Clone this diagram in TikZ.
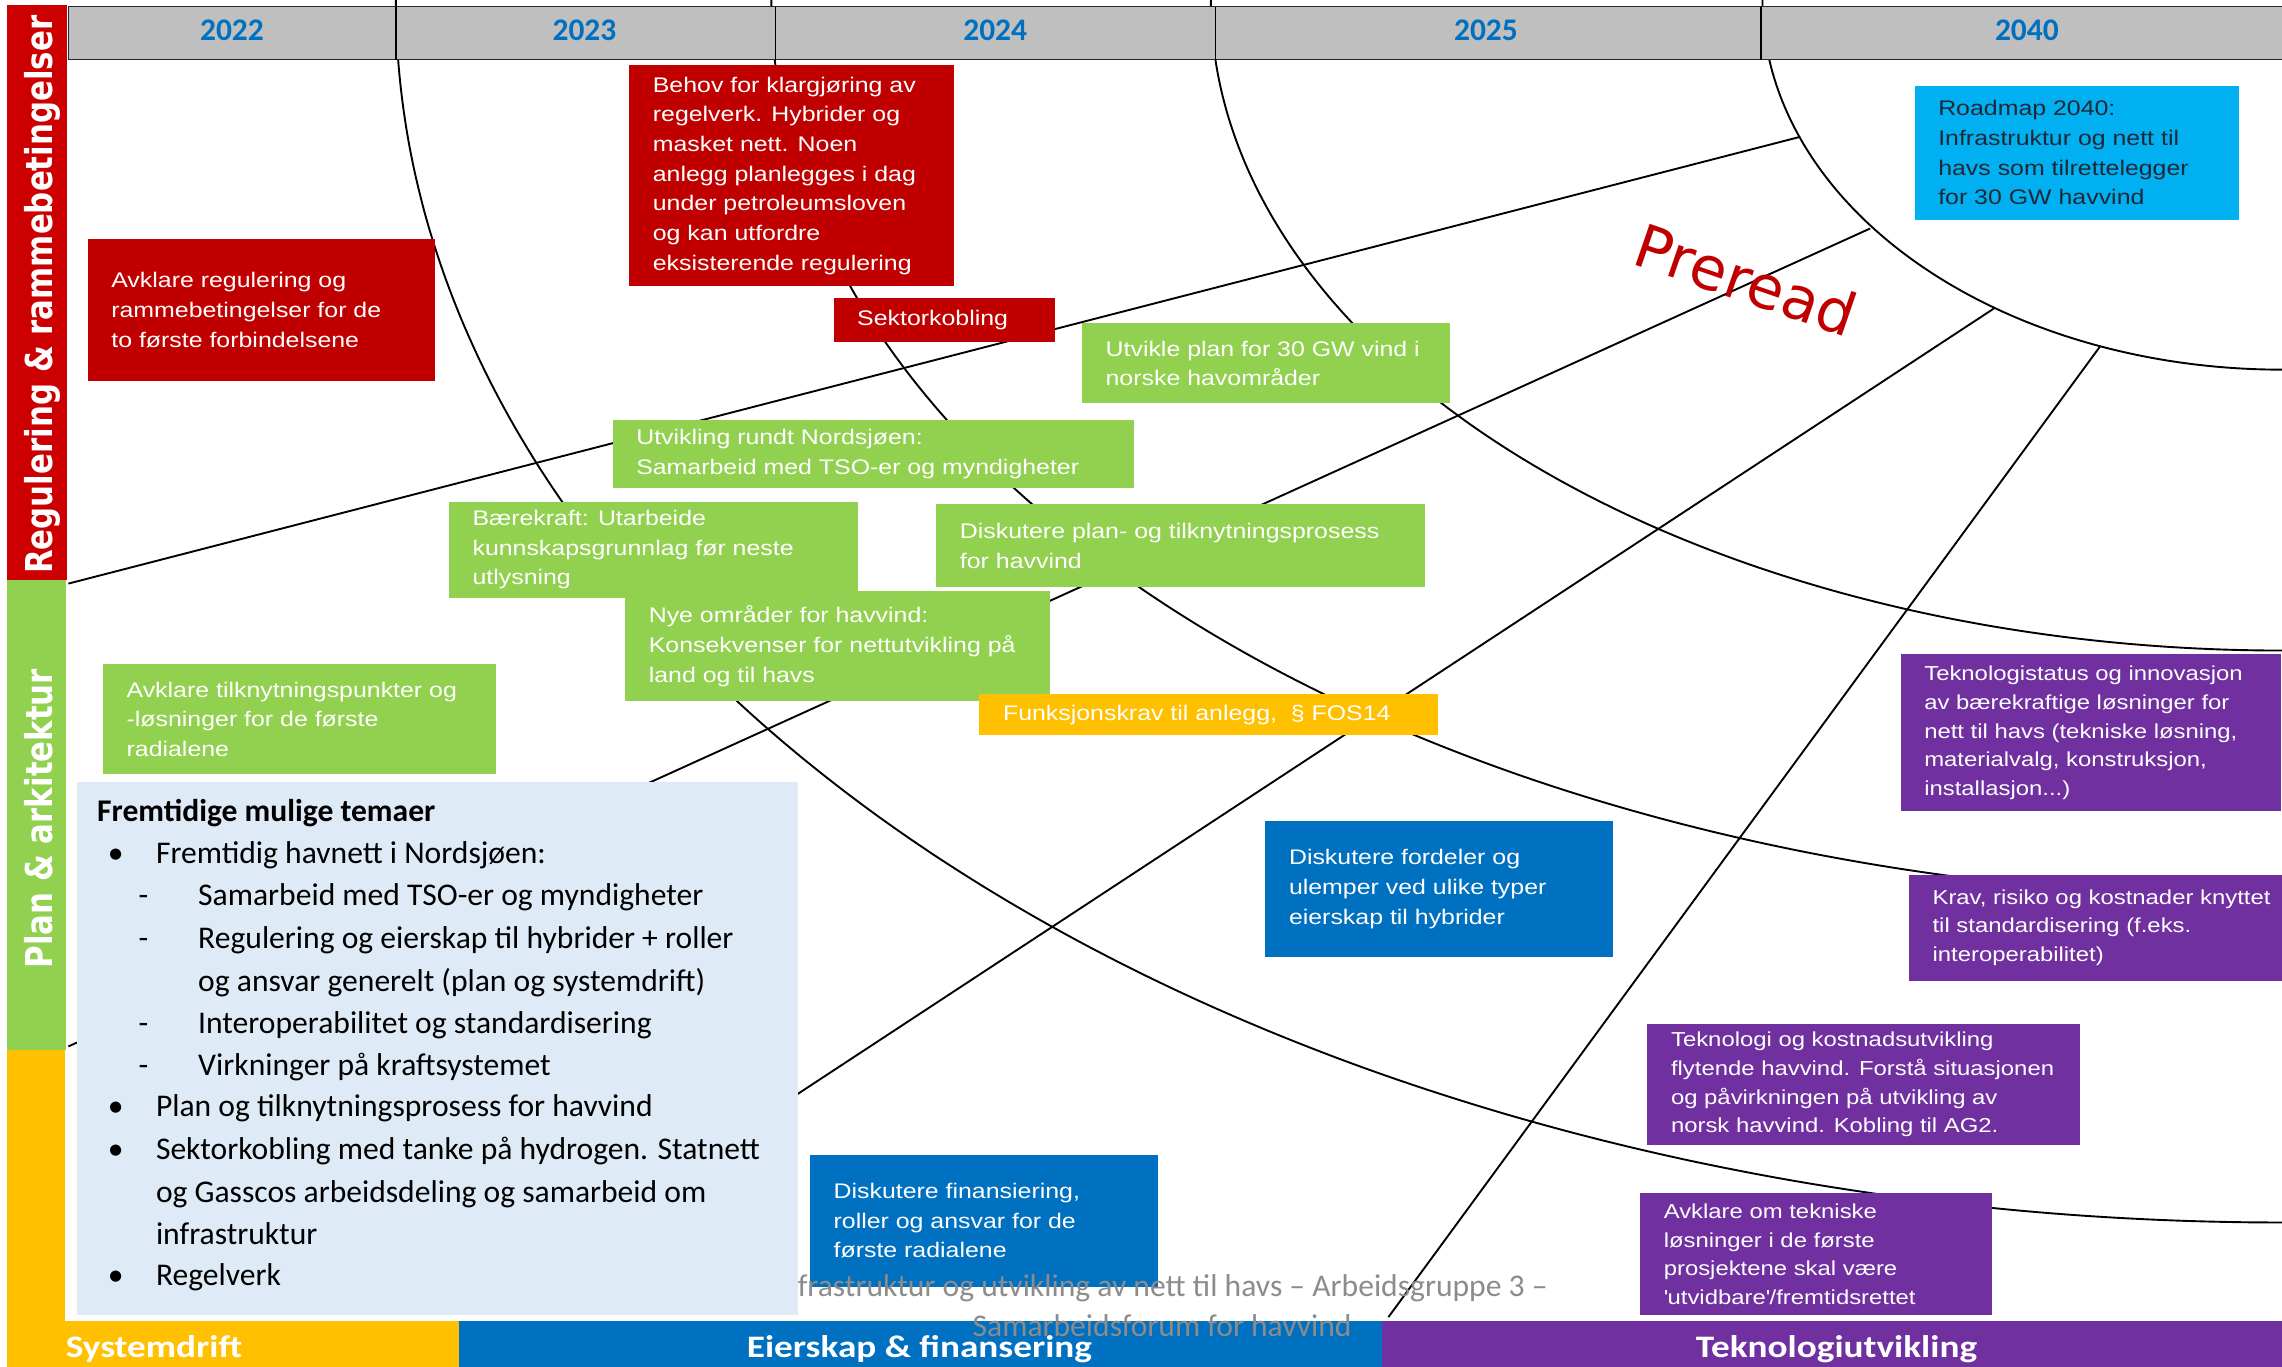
\documentclass[tikz,border=0pt]{standalone}
\usepackage{fontspec}
\usepackage{tikz}
\newfontfamily\cardfont{Liberation Sans}[FakeStretch=1.18]
\newfontfamily\calfont{Carlito}
\newfontfamily\barfont{Carlito}[FakeStretch=1.19]
\newfontfamily\sidefont{DejaVu Sans}
\definecolor{BoxRed}{RGB}{192,0,0}
\definecolor{BarRed}{RGB}{204,0,0}
\definecolor{LeafGreen}{RGB}{146,208,80}
\definecolor{Amber}{RGB}{255,192,0}
\definecolor{SkyCyan}{RGB}{0,176,240}
\definecolor{OceanBlue}{RGB}{0,112,192}
\definecolor{Violet}{RGB}{112,48,160}
\definecolor{PaleBlue}{RGB}{222,235,247}
\definecolor{HeadGray}{RGB}{191,191,191}
\definecolor{FootGray}{RGB}{140,140,140}
\definecolor{NavyInk}{RGB}{32,40,56}

\begin{document}
\begin{tikzpicture}[x=1pt,y=-1pt,
  arcline/.style={black, line width=1.3pt},
  cardtext/.style={anchor=west, inner sep=0pt, align=left, text=white,
    font={\cardfont\fontsize{14.5}{20.4}\selectfont}},
  cardsmall/.style={cardtext, font={\cardfont\fontsize{13.9}{19.7}\selectfont}},
  yearlabel/.style={anchor=base, inner sep=0pt, text=OceanBlue,
    font={\calfont\bfseries\fontsize{21.6}{24}\selectfont}},
  sidelabel/.style={rotate=90, anchor=base, inner sep=0pt, text=white,
    font={\sidefont\bfseries\fontsize{21.2}{24}\selectfont}},
  barlabel/.style={anchor=base west, inner sep=0pt, text=white,
    font={\barfont\bfseries\fontsize{21.5}{24}\selectfont}},
  tema/.style={anchor=base west, inner sep=0pt, text=black,
    font={\calfont\fontsize{21.7}{26}\selectfont}},
  foot/.style={inner sep=0pt, text=FootGray,
    font={\calfont\fontsize{21.7}{26}\selectfont}}]
  \useasboundingbox (0,0) rectangle (1568,939);

  % ---------- 弧线与射线（先画）----------
  \foreach \rx/\ry in {357/254,736/447,1038/617,1296/840}
    \draw[arcline, domain=90:180, samples=90, smooth, variable=\t]
      plot ({1568+\rx*cos(\t)},{\ry*sin(\t)});
  \draw[arcline] (47,401) -- (1237,94);
  \draw[arcline] (47,719) -- (1285,157);
  \draw[arcline] (540,757) -- (1370,212);
  \draw[arcline] (954,905) -- (1443,238);

  % ---------- 年份表头 ----------
  \fill[HeadGray] (47,4.6) rectangle (1575,41);
  \draw[line width=0.8pt, black!85] (47,4.6) rectangle (1575,41);
  \foreach \x in {272,533,835,1210}
    \draw[line width=0.9pt] (\x,4.6) -- (\x,41);
  \foreach \yr/\xc in {2022/159.4,2023/401.6,2024/683.8,2025/1021,2040/1392.7}
    \node[yearlabel] (y\yr) at (\xc,27.9) {\yr};

  % 左侧色条
  \fill[BarRed] (5,3.4) rectangle (46,398.5);
  \fill[LeafGreen] (5,398.5) rectangle (45.5,721.5);
  \fill[Amber] (5,721.5) rectangle (45,939);
  \node[sidelabel] (sideReg) at (36,202.5)
    {\scalebox{1}[1.2]{Regulering \& rammebetingelser}};
  \node[sidelabel] (sidePlan) at (36,562.5)
    {\scalebox{1}[1.2]{Plan \& arkitektur}};

  % ---------- 任务框 ----------
  \foreach \nm/\col/\xa/\ya/\xb/\yb/\txt in {
      avklReg/BoxRed/60.3/164.4/298.7/261.6/{Avklare regulering og\\rammebetingelser for de\\to første forbindelsene},
      behov/BoxRed/432.4/44.9/655.6/196.5/{Behov for klargjøring av\\regelverk. Hybrider og\\masket nett. Noen\\anlegg planlegges i dag\\under petroleumsloven\\og kan utfordre\\eksisterende regulering},
      sektor/BoxRed/572.8/205/724.6/235.2/{Sektorkobling},
      utvPlan/LeafGreen/743.5/222.2/996/277.1/{Utvikle plan for 30 GW vind i\\norske havområder},
      utvNord/LeafGreen/421/288.6/779/335.5/{Utvikling rundt Nordsjøen:\\Samarbeid med TSO-er og myndigheter},
      baere/LeafGreen/308.5/344.7/589.7/410.7/{Bærekraft: Utarbeide\\kunnskapsgrunnlag før neste\\utlysning},
      diskPlan/LeafGreen/643.4/346.5/979/403.6/{Diskutere plan- og tilknytningsprosess\\for havvind},
      nyeOmr/LeafGreen/429.6/406/721.5/482/{Nye områder for havvind:\\Konsekvenser for nettutvikling på\\land og til havs},
      funksj/Amber/673/477/988/505/{Funksjonskrav til anlegg,\ \ § FOS14},
      avklTilk/LeafGreen/70.8/456.5/341/532/{Avklare tilknytningspunkter og\\-løsninger for de første\\radialene},
      diskFord/OceanBlue/869.5/564.2/1108/657.3/{Diskutere fordeler og\\ulemper ved ulike typer\\eierskap til hybrider},
      diskFin/OceanBlue/556.6/793.6/795.7/884/{Diskutere finansiering,\\roller og ansvar for de\\første radialene}} {
    \fill[fill=\col] (\xa,\ya) rectangle (\xb,\yb);
    \node[cardtext] (\nm) at ({\xa+16},{(\ya+\yb)/2}) {\txt};
  }

  % 技术类（紫色）
  \foreach \nm/\xa/\ya/\xb/\yb/\txt in {
      teknStatus/1306/449.7/1567/557.5/{Teknologistatus og innovasjon\\av bærekraftige løsninger for\\nett til havs (tekniske løsning,\\materialvalg, konstruksjon,\\installasjon...)},
      krav/1311.7/600.9/1570/674/{Krav, risiko og kostnader knyttet\\til standardisering (f.eks.\\interoperabilitet)},
      teknKost/1132/703.6/1429.2/786.7/{Teknologi og kostnadsutvikling\\flytende havvind. Forstå situasjonen\\og påvirkningen på utvikling av\\norsk havvind. Kobling til AG2.},
      avklTekn/1127/820/1369/903.6/{Avklare om tekniske\\løsninger i de første\\prosjektene skal være\\\textquotesingle utvidbare\textquotesingle/fremtidsrettet}} {
    \fill[Violet] (\xa,\ya) rectangle (\xb,\yb);
    \node[cardsmall] (\nm) at ({\xa+16},{(\ya+\yb)/2}) {\txt};
  }

  \fill[SkyCyan] (1315.6,59) rectangle (1538.3,151);
  \node[cardtext, text=NavyInk] (roadmap) at (1331.6,105)
    {Roadmap 2040:\\Infrastruktur og nett til\\havs som tilrettelegger\\for 30 GW havvind};

  \node[rotate=-19, inner sep=0pt, text=BoxRed,
    font={\sidefont\fontsize{41}{48}\selectfont}] (preread) at (1200,192) {Preread};

  % ---------- 底部色条与页脚 ----------
  \fill[Amber] (5,907.5) rectangle (315.5,939);
  \fill[OceanBlue] (315.5,907.5) rectangle (949.5,939);
  \fill[Violet] (949.5,907.5) rectangle (1570,939);
  \node[foot, anchor=base west] (footA) at (548,891)
    {frastruktur og utvikling av nett til havs – Arbeidsgruppe 3 –};
  \node[foot, anchor=base] (footB) at (798.5,918) {Samarbeidsforum for havvind};

  % 未来主题框
  \fill[PaleBlue] (52.6,537) rectangle (548,903.6);
  \foreach \tx/\ty/\tline [count=\k] in {
      66.6/564.6/{\bfseries Fremtidige mulige temaer},
      74/593.6/\textbullet, 107/593.6/{Fremtidig havnett i Nordsjøen:},
      95/622.2/-, 136/622.2/{Samarbeid med TSO-er og myndigheter},
      95/651.5/-, 136/651.5/{Regulering og eierskap til hybrider + roller},
      136/681/{og ansvar generelt (plan og systemdrift)},
      95/710/-, 136/710/{Interoperabilitet og standardisering},
      95/738.8/-, 136/738.8/{Virkninger på kraftsystemet},
      74/767.3/\textbullet, 107/767.3/{Plan og tilknytningsprosess for havvind},
      74/797/\textbullet, 107/797/{Sektorkobling med tanke på hydrogen. Statnett},
      107/826/{og Gasscos arbeidsdeling og samarbeid om},
      107/854.8/{infrastruktur},
      74/883.6/\textbullet, 107/883.6/{Regelverk}}
    \node[tema] (tema\k) at (\tx,\ty) {\tline};

  \node[barlabel] (sysDrift) at (45,933) {Systemdrift};
  \node[barlabel] (eierskap) at (513,933) {Eierskap \& finansering};
  \node[barlabel] (teknUtv) at (1165,933) {Teknologiutvikling};
\end{tikzpicture}
\end{document}
